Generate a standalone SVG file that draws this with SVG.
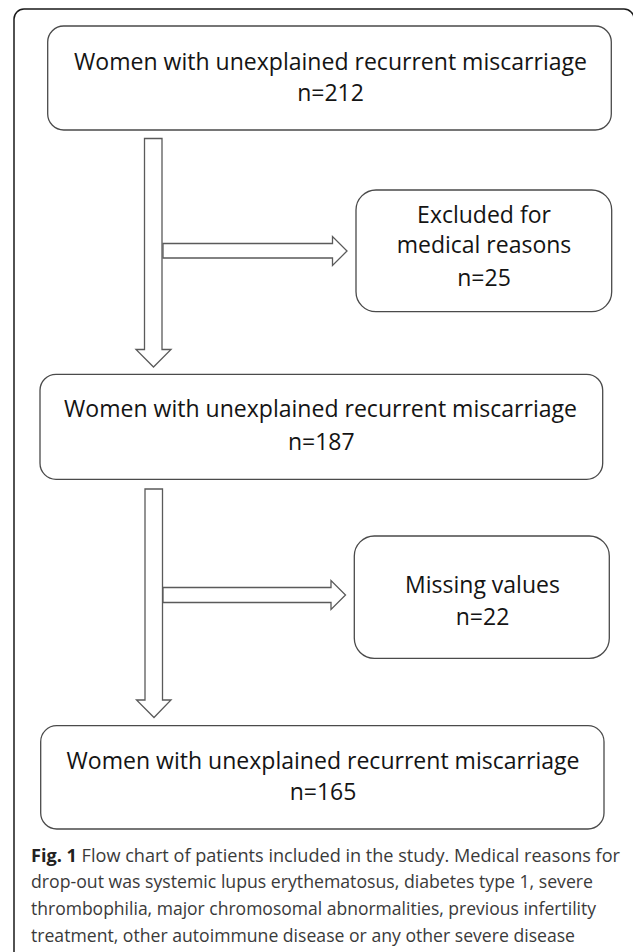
<svg xmlns="http://www.w3.org/2000/svg" width="633" height="952" viewBox="0 0 633 952">
<style>
.box{fill:#fff;stroke:#4a4a4a;stroke-width:1.3}
.arr{fill:#fff;stroke:#5a5a5a;stroke-width:1.3;stroke-linejoin:miter}
.t{font-family:"Open Sans","Noto Sans",sans-serif;font-size:23px;fill:#141414;text-anchor:middle}
.cap{font-family:"Open Sans","Noto Sans",sans-serif;font-size:18px;fill:#3a3a3a}
.capb{font-weight:bold;fill:#222}
</style>
<rect width="633" height="952" fill="#fff"/>
<path d="M14,952 V19 A10,10 0 0 1 24,9 H624 A10,10 0 0 1 634,19 V952" fill="none" stroke="#1a1a1a" stroke-width="1.5"/>
<g id="connectors">
<path class="arr" d="M144.5,138.5 H162 V349.5 H171 L153.5,367 L136,349.5 H144.5 Z"/>
<path class="arr" d="M163,243.5 H332.5 V236.5 L347,251 L332.5,265.5 V258 H163 Z"/>
<path class="arr" d="M145,489 H162.5 V700 H171 L154,717.5 L136.5,700 H145 Z"/>
<path class="arr" d="M163,587.5 H331 V580.5 L345.5,595 L331,609.5 V602.5 H163 Z"/>
</g>
<g id="n1">
<rect class="box" x="47.7" y="26" width="563.6" height="104" rx="16"/>
<text class="t" x="330.5" y="70" textLength="513" lengthAdjust="spacingAndGlyphs">Women with unexplained recurrent miscarriage</text>
<text class="t" x="330.5" y="101">n=212</text>
</g>
<g id="n2">
<rect class="box" x="356" y="190" width="255.7" height="121.7" rx="20"/>
<text class="t" x="484" y="222.7">Excluded for</text>
<text class="t" x="484" y="253.3">medical reasons</text>
<text class="t" x="484" y="286">n=25</text>
</g>
<g id="n3">
<rect class="box" x="40" y="374.3" width="562.7" height="105" rx="16"/>
<text class="t" x="320.5" y="417.3" textLength="513" lengthAdjust="spacingAndGlyphs">Women with unexplained recurrent miscarriage</text>
<text class="t" x="321.3" y="450">n=187</text>
</g>
<g id="n4">
<rect class="box" x="354.3" y="536" width="255" height="122.3" rx="20"/>
<text class="t" x="482.5" y="592.7">Missing values</text>
<text class="t" x="482.5" y="625">n=22</text>
</g>
<g id="n5">
<rect class="box" x="40.7" y="725.7" width="563.3" height="103.3" rx="16"/>
<text class="t" x="323" y="769.3" textLength="513" lengthAdjust="spacingAndGlyphs">Women with unexplained recurrent miscarriage</text>
<text class="t" x="323" y="800">n=165</text>
</g>
<g id="caption">
<text class="cap" x="31" y="861.7" textLength="589" lengthAdjust="spacingAndGlyphs"><tspan class="capb">Fig. 1</tspan> Flow chart of patients included in the study. Medical reasons for</text>
<text class="cap" x="31" y="888.3" textLength="562" lengthAdjust="spacingAndGlyphs">drop-out was systemic lupus erythematosus, diabetes type 1, severe</text>
<text class="cap" x="31" y="915" textLength="565" lengthAdjust="spacingAndGlyphs">thrombophilia, major chromosomal abnormalities, previous infertility</text>
<text class="cap" x="31" y="941.7" textLength="544" lengthAdjust="spacingAndGlyphs">treatment, other autoimmune disease or any other severe disease</text>
</g>
</svg>
